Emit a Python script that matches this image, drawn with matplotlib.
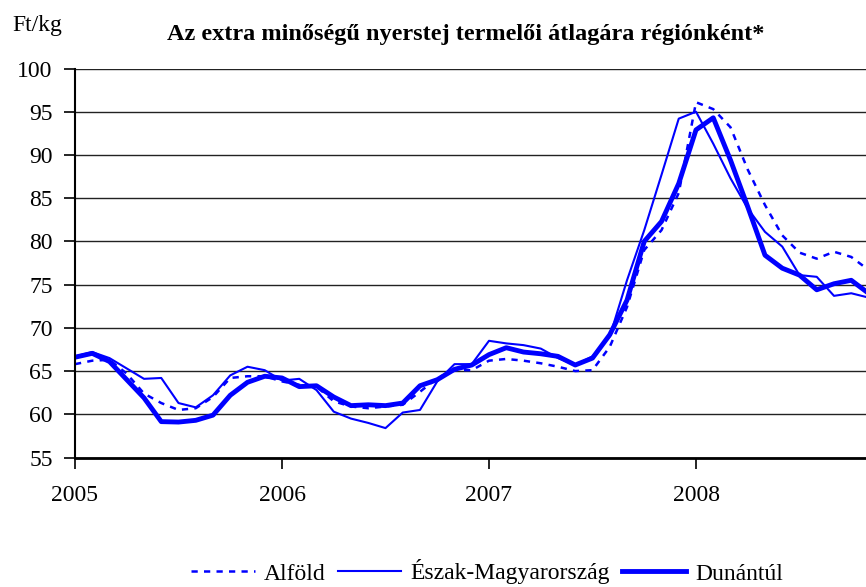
import matplotlib
matplotlib.use("Agg")
import matplotlib.pyplot as plt

# Monthly data, Jan 2005 .. Nov 2008 (Ft/kg)
alfold = [65.8, 66.2, 66.3, 64.7, 62.4, 61.3, 60.5, 60.7, 62.0, 64.2, 64.4, 64.4,
          63.8, 63.4, 63.2, 61.5, 60.9, 60.7, 60.9, 61.1, 62.6, 64.2, 65.1, 65.1,
          66.2, 66.4, 66.2, 65.9, 65.5, 65.0, 65.1, 67.8, 72.4, 79.0, 81.3, 85.6,
          96.1, 95.3, 93.2, 88.3, 84.2, 80.7, 78.7, 78.0, 78.8, 78.2, 76.7]
eszak = [66.7, 67.2, 66.5, 65.3, 64.1, 64.2, 61.3, 60.8, 62.2, 64.5, 65.5, 65.1,
         63.9, 64.1, 62.8, 60.3, 59.5, 59.0, 58.4, 60.2, 60.5, 63.8, 65.8, 65.8,
         68.5, 68.2, 68.0, 67.6, 66.5, 65.7, 66.7, 69.0, 75.5, 81.3, 87.7, 94.2,
         95.0, 91.3, 87.3, 83.8, 81.1, 79.4, 76.1, 75.9, 73.7, 74.0, 73.5]
dunantul = [66.6, 67.05, 66.1, 64.0, 61.9, 59.15, 59.1, 59.3, 59.9, 62.2, 63.7, 64.4,
            64.2, 63.2, 63.3, 62.0, 61.0, 61.1, 61.0, 61.3, 63.3, 64.0, 65.2, 65.7,
            66.9, 67.7, 67.2, 67.0, 66.7, 65.7, 66.5, 69.2, 73.2, 80.0, 82.3, 86.7,
            92.9, 94.3, 89.4, 84.0, 78.4, 76.9, 76.1, 74.4, 75.1, 75.5, 74.0]
months = list(range(len(alfold)))

year_ticks = [0, 12, 24, 36]
year_labels = ["2005", "2006", "2007", "2008"]
series_names = ["Alföld", "Észak-Magyarország", "Dunántúl"]

plt.rcParams['font.family'] = ['Liberation Serif', 'DejaVu Serif']

fig = plt.figure(figsize=(8.66, 5.87), dpi=100)
ax = fig.add_axes([75/866, 1 - 457.5/587, 1 - 75/866, (457.5 - 68.5)/587])

blue = "#0000FF"
ax.plot(months, alfold, color=blue, lw=1.8, linestyle=(0, (2.5, 2.5)), label=series_names[0])
ax.plot(months, eszak, color=blue, lw=1.5, label=series_names[1])
ax.plot(months, dunantul, color=blue, lw=3.5, label=series_names[2])

ax.set_yticks(range(55, 101, 5))
ax.set_xticks(year_ticks)
ax.set_xticklabels(year_labels)
ax.set_ylim(55, 100)
ax.set_xlim(0, (866 - 75) / 17.25)

ax.yaxis.grid(True, color="#222222", lw=1.0)
ax.set_axisbelow(True)
for s in ["top", "right"]:
    ax.spines[s].set_visible(False)
ax.spines["left"].set_linewidth(1.5)
ax.spines["bottom"].set_linewidth(2.0)
ax.tick_params(axis="y", length=8, width=1.2, pad=8, labelsize=17)
ax.tick_params(axis="x", length=8, width=1.2, pad=12, labelsize=17)

fig.text(12/866, 1 - 31/587, "Ft/kg", fontsize=17, ha="left", va="baseline")
fig.text(466/866, 1 - 40/587, "Az extra minőségű nyerstej termelői átlagára régiónként*",
         fontsize=17.5, fontweight="bold", ha="center", va="baseline")

fig.legend(loc="center", bbox_to_anchor=(487/866, 1 - 572/587), ncol=3, frameon=False,
           fontsize=17, handlelength=2.7, handletextpad=0.4, columnspacing=0.5)

fig.savefig("out.png", dpi=100)
